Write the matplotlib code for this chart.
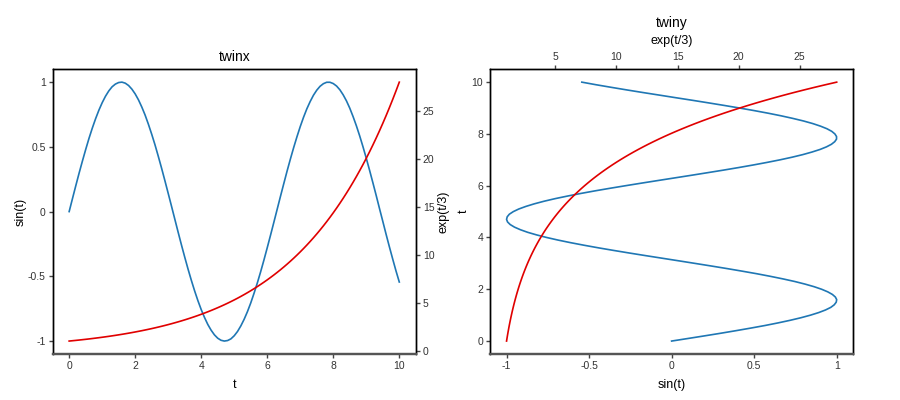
import matplotlib
matplotlib.use("Agg")
import matplotlib.pyplot as plt

plt.rcParams['font.family'] = ['Liberation Sans', 'DejaVu Sans']

# sampled values of the two curves (t in steps of 0.1)
t = [0.0, 0.1, 0.2, 0.3, 0.4, 0.5, 0.6, 0.7, 0.8, 0.9,
     1.0, 1.1, 1.2, 1.3, 1.4, 1.5, 1.6, 1.7, 1.8, 1.9,
     2.0, 2.1, 2.2, 2.3, 2.4, 2.5, 2.6, 2.7, 2.8, 2.9,
     3.0, 3.1, 3.2, 3.3, 3.4, 3.5, 3.6, 3.7, 3.8, 3.9,
     4.0, 4.1, 4.2, 4.3, 4.4, 4.5, 4.6, 4.7, 4.8, 4.9,
     5.0, 5.1, 5.2, 5.3, 5.4, 5.5, 5.6, 5.7, 5.8, 5.9,
     6.0, 6.1, 6.2, 6.3, 6.4, 6.5, 6.6, 6.7, 6.8, 6.9,
     7.0, 7.1, 7.2, 7.3, 7.4, 7.5, 7.6, 7.7, 7.8, 7.9,
     8.0, 8.1, 8.2, 8.3, 8.4, 8.5, 8.6, 8.7, 8.8, 8.9,
     9.0, 9.1, 9.2, 9.3, 9.4, 9.5, 9.6, 9.7, 9.8, 9.9, 10.0]
sin_t = [0.000, 0.100, 0.199, 0.296, 0.389, 0.479, 0.565, 0.644, 0.717, 0.783,
         0.841, 0.891, 0.932, 0.964, 0.985, 0.997, 1.000, 0.992, 0.974, 0.946,
         0.909, 0.863, 0.808, 0.746, 0.675, 0.598, 0.516, 0.427, 0.335, 0.239,
         0.141, 0.042, -0.058, -0.158, -0.256, -0.351, -0.443, -0.530, -0.612, -0.688,
         -0.757, -0.818, -0.872, -0.916, -0.952, -0.978, -0.994, -1.000, -0.996, -0.983,
         -0.959, -0.926, -0.883, -0.832, -0.773, -0.706, -0.631, -0.551, -0.465, -0.374,
         -0.279, -0.182, -0.083, 0.017, 0.117, 0.215, 0.312, 0.405, 0.494, 0.578,
         0.657, 0.729, 0.794, 0.850, 0.899, 0.938, 0.968, 0.988, 0.999, 0.999,
         0.989, 0.970, 0.941, 0.902, 0.855, 0.799, 0.734, 0.663, 0.585, 0.501,
         0.412, 0.319, 0.223, 0.125, 0.024, -0.075, -0.175, -0.272, -0.366, -0.458, -0.544]
exp_t = [1.000, 1.034, 1.069, 1.105, 1.143, 1.181, 1.221, 1.263, 1.306, 1.350,
         1.396, 1.443, 1.492, 1.543, 1.595, 1.649, 1.705, 1.763, 1.822, 1.884,
         1.948, 2.014, 2.082, 2.153, 2.226, 2.301, 2.379, 2.460, 2.543, 2.629,
         2.718, 2.810, 2.906, 3.004, 3.106, 3.211, 3.320, 3.433, 3.549, 3.669,
         3.794, 3.923, 4.055, 4.192, 4.335, 4.482, 4.634, 4.791, 4.953, 5.121,
         5.294, 5.473, 5.659, 5.851, 6.050, 6.255, 6.467, 6.686, 6.913, 7.147,
         7.389, 7.640, 7.898, 8.166, 8.443, 8.729, 9.025, 9.331, 9.647, 9.974,
         10.312, 10.662, 11.023, 11.397, 11.784, 12.183, 12.596, 13.023, 13.464, 13.920,
         14.392, 14.880, 15.385, 15.907, 16.445, 17.002, 17.579, 18.175, 18.791, 19.428,
         20.086, 20.767, 21.471, 22.199, 22.952, 23.730, 24.533, 25.365, 26.225, 27.114, 28.032]

t_ticks = [0, 2, 4, 6, 8, 10]
sin_ticks = [-1, -0.5, 0, 0.5, 1]
sin_ticklabels = ['-1', '-0.5', '0', '0.5', '1']
exp_ticks = [0, 5, 10, 15, 20, 25]

BLUE = '#1f77b4'
RED = '#e00000'
TICK_FS = 7.5
LAB_FS = 9

fig = plt.figure(figsize=(9, 4), dpi=100)
ax1 = fig.add_axes([0.0585, 0.115, 0.4035, 0.712])
ax3 = fig.add_axes([0.5445, 0.115, 0.4035, 0.712])


def style(ax):
    for s in ax.spines.values():
        s.set_linewidth(1.0)
        s.set_color('black')
    ax.spines['bottom'].set_color('#555555')
    ax.spines['bottom'].set_linewidth(1.6)
    ax.tick_params(direction='out', length=3, width=1, colors='#444444',
                   labelsize=TICK_FS, labelcolor='#333333', pad=2)


# twinx
ax1.plot(t, sin_t, color=BLUE, lw=1.2)
ax1.set_xticks(t_ticks)
ax1.set_yticks(sin_ticks)
ax1.set_yticklabels(sin_ticklabels)
ax1.set_xlabel('t', fontsize=LAB_FS, labelpad=6)
ax1.set_ylabel('sin(t)', fontsize=LAB_FS, labelpad=1)
ax1.set_title('twinx', fontsize=10, pad=6)
style(ax1)

ax2 = ax1.twinx()
ax2.plot(t, exp_t, color=RED, lw=1.2)
ax2.set_yticks(exp_ticks)
ax2.set_ylabel('exp(t/3)', fontsize=LAB_FS, labelpad=2)
style(ax2)

# twiny
ax3.plot(sin_t, t, color=BLUE, lw=1.2)
ax3.set_yticks(t_ticks)
ax3.set_xticks(sin_ticks)
ax3.set_xticklabels(sin_ticklabels)
ax3.set_xlabel('sin(t)', fontsize=LAB_FS, labelpad=6)
ax3.set_ylabel('t', fontsize=LAB_FS, labelpad=1)
style(ax3)

ax4 = ax3.twiny()
ax4.plot(exp_t, t, color=RED, lw=1.2)
ax4.set_xticks(exp_ticks[1:])
ax4.set_xlabel('exp(t/3)', fontsize=LAB_FS, labelpad=6)
ax4.set_title('twiny', fontsize=10, pad=6)
style(ax4)

fig.savefig('out.png', dpi=100)
